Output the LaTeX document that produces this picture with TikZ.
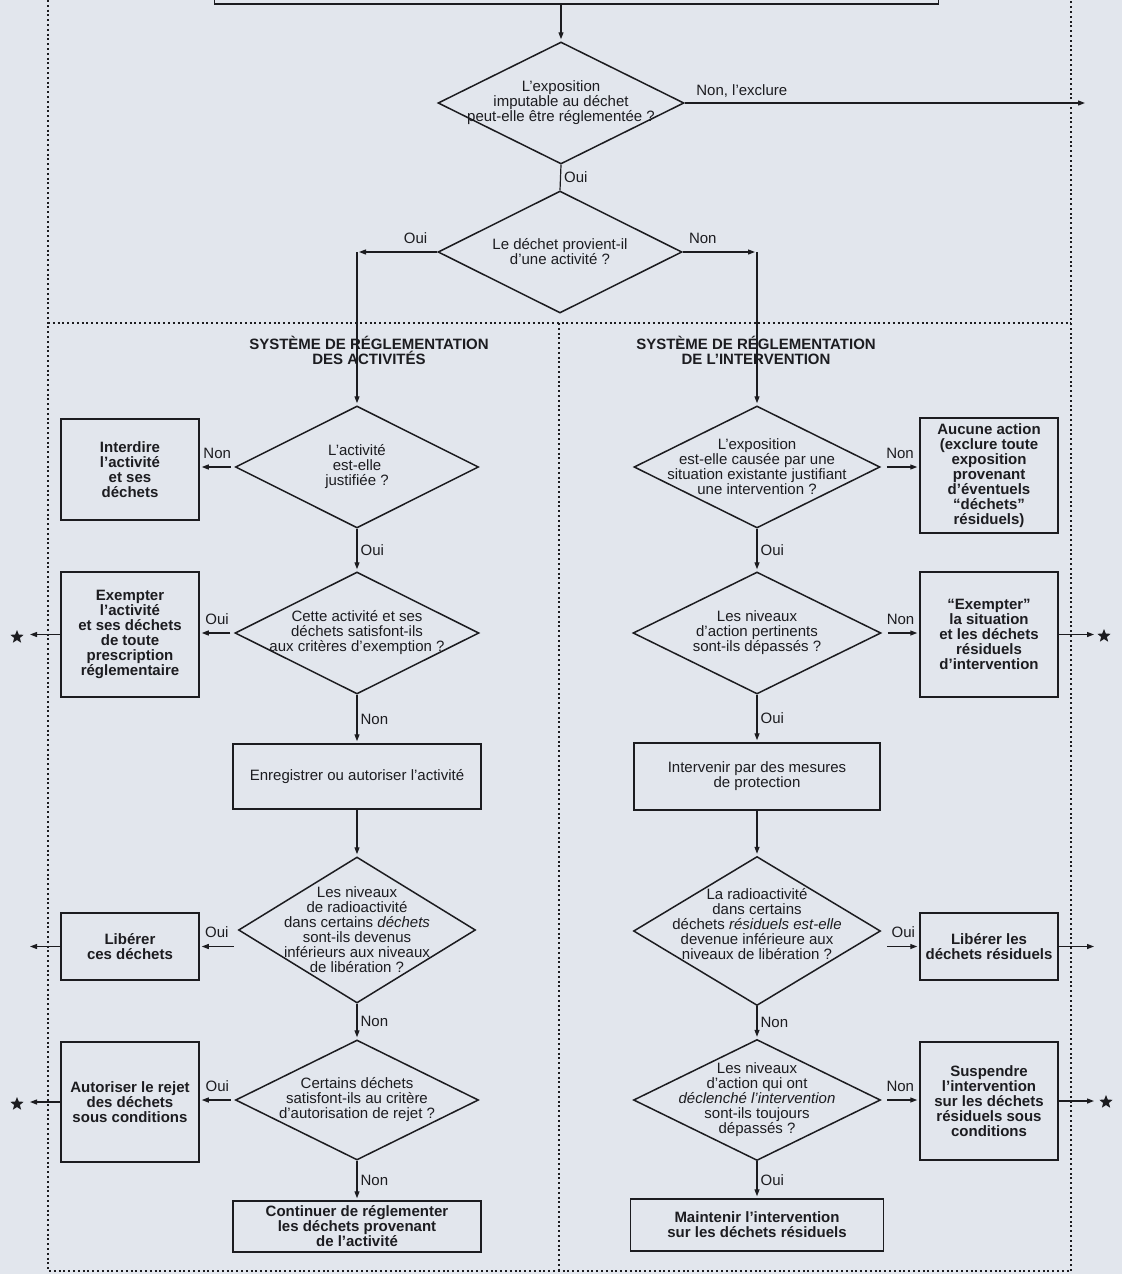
\documentclass[tikz,border=0pt]{standalone}
\usepackage{fontspec}
\setmainfont{Liberation Sans}
\usetikzlibrary{shapes.geometric,arrows.meta}

\definecolor{paper}{RGB}{226,230,237}
\definecolor{ink}{RGB}{28,28,32}

\tikzset{
  every node/.style={font=\fontsize{15}{15}\selectfont, text=ink},
  act/.style 2 args={draw=ink, line width=1.5pt, minimum width=#1pt, minimum height=#2pt,
    inner sep=0pt, align=center, font=\fontsize{15}{15}\selectfont\bfseries},
  todo/.style 2 args={act={#1}{#2}, font=\fontsize{15}{15}\selectfont},
  quest/.style 2 args={diamond, draw=ink, line width=1.5pt, minimum width=#1pt,
    minimum height=#2pt, inner sep=0pt},
  qtext/.style={align=center, inner sep=0pt},
  heading/.style={align=center, font=\fontsize{15}{15}\selectfont\bfseries},
  lab/.style={inner sep=3pt},
  labup/.style={lab, above=5pt},
  arr/.style={draw=ink, line width=1.2pt, -{Triangle[length=7pt,width=5pt]}, shorten >=2pt},
  link/.style={draw=ink, line width=1.2pt},
  dotframe/.style={draw=ink, line width=2.2pt, dash pattern=on 2pt off 2.8pt},
  starmark/.style={star, star points=5, star point ratio=2.3, fill=ink, inner sep=0pt, minimum size=14pt}
}

\begin{document}
\begin{tikzpicture}[x=1pt, y=-1pt]
\useasboundingbox (0,0) rectangle (1122,1274);
\clip (0,0) rectangle (1122,1274);
\fill[paper] (0,0) rectangle (1122,1274);

\draw[dotframe] (48,0) -- (48,1271) -- (1071,1271) -- (1071,0);
\draw[dotframe] (48,323) -- (1071,323);
\draw[dotframe] (559,323) -- (559,1271);

\node[heading] (t1) at (369,350) {SYSTÈME DE RÉGLEMENTATION\\DES ACTIVITÉS};
\node[heading] (t2) at (756,350) {SYSTÈME DE RÉGLEMENTATION\\DE L'INTERVENTION};

\node[act={724}{48}] (top) at (576.5,-20) {};
\node[quest={246}{122}, label={[qtext]center:{L'exposition\\imputable au déchet\\peut-elle être réglementée ?}}] (q0) at (561,103) {};
\node[quest={244}{122}, label={[qtext]center:{Le déchet provient-il\\d'une activité ?}}] (q1) at (560,252) {};

\node[quest={243}{122}, label={[qtext]center:{L'activité\\est-elle\\justifiée ?}}] (l1) at (357,467) {};
\node[quest={244}{122}, label={[qtext]center:{Cette activité et ses\\déchets satisfont-ils\\aux critères d'exemption ?}}] (l2) at (357,633) {};
\node[todo={248}{65}] (la) at (357,776.5) {Enregistrer ou autoriser l'activité};
\node[quest={237}{146}, label={[qtext]center:{Les niveaux\\de radioactivité\\dans certains \textit{déchets}\\sont-ils devenus\\inférieurs aux niveaux\\de libération ?}}] (l3) at (357,930) {};
\node[quest={243}{120}, label={[qtext]center:{Certains déchets\\satisfont-ils au critère\\d'autorisation de rejet ?}}] (l4) at (357,1100) {};
\node[act={248}{51}] (lb) at (357,1226.5) {Continuer de réglementer\\les déchets provenant\\de l'activité};

\node[act={138}{101}] (a1) at (130,469.5) {Interdire\\l'activité\\et ses\\déchets};
\node[act={138}{125}] (a2) at (130,634.5) {Exempter\\l'activité\\et ses déchets\\de toute\\prescription\\réglementaire};
\node[act={138}{67}] (a3) at (130,946.5) {Libérer\\ces déchets};
\node[act={138}{120}] (a4) at (130,1102) {Autoriser le rejet\\des déchets\\sous conditions};

\node[quest={246}{122}, label={[qtext]center:{L'exposition\\est-elle causée par une\\situation existante justifiant\\une intervention ?}}] (r1) at (757,467) {};
\node[quest={248}{122}, label={[qtext]center:{Les niveaux\\d'action pertinents\\sont-ils dépassés ?}}] (r2) at (757,633) {};
\node[todo={246}{67}] (ra) at (757,776.5) {Intervenir par des mesures\\de protection};
\node[quest={247}{149}, label={[qtext, yshift=7pt]center:{La radioactivité\\dans certains\\déchets \textit{résiduels est-elle}\\devenue inférieure aux\\niveaux de libération ?}}] (r3) at (757,931) {};
\node[quest={247}{121}, label={[qtext]center:{Les niveaux\\d'action qui ont\\\textit{déclenché l'intervention}\\sont-ils toujours\\dépassés ?}}] (r4) at (757,1100) {};
\node[act={253}{52}] (rb) at (757,1225) {Maintenir l'intervention\\sur les déchets résiduels};

\node[act={138}{115}] (b1) at (989,475.5) {Aucune action\\(exclure toute\\exposition\\provenant\\d'éventuels\\``déchets''\\résiduels)};
\node[act={138}{125}] (b2) at (989,634.5) {``Exempter''\\la situation\\et les déchets\\résiduels\\d'intervention};
\node[act={138}{67}] (b3) at (989,946.5) {Libérer les\\déchets résiduels};
\node[act={138}{118}] (b4) at (989,1101) {Suspendre\\l'intervention\\sur les déchets\\résiduels sous\\conditions};

\node[starmark] (s1) at (17,637) {};
\node[starmark] (s2) at (17,1104) {};
\node[starmark] (s3) at (1104,636) {};
\node[starmark] (s4) at (1106,1102) {};

\coordinate (e0) at (1087,103);
\coordinate (e1) at (28,634.5);
\coordinate (e2) at (28,946.5);
\coordinate (e3) at (28,1102);
\coordinate (e4) at (1096,634.5);
\coordinate (e5) at (1096,946.5);
\coordinate (e6) at (1096,1101);

\draw[arr] (top.south -| q0.north) -- (q0.north);
\draw[arr] (q0.east) -- (e0) node[lab, pos=0, anchor=south west, xshift=8pt, yshift=2pt] {Non, l'exclure};
\draw[link] (q0.south) -- (q1.north) node[lab, midway, right] {Oui};
\draw[arr] (q1.west) -- (q1.west -| l1.north) node[labup, pos=.27] {Oui};
\draw[arr] (q1.west -| l1.north) -- (l1.north);
\draw[arr] (q1.east) -- (q1.east -| r1.north) node[labup, pos=.27] {Non};
\draw[arr] (q1.east -| r1.north) -- (r1.north);

\draw[arr, shorten <=4pt] (l1.west) -- (l1.west -| a1.east) node[labup, midway] {Non};
\draw[arr] (l1.south) -- (l2.north) node[lab, midway, right] {Oui};
\draw[arr, shorten <=4pt] (l2.west) -- (l2.west -| a2.east) node[labup, midway] {Oui};
\draw[arr] (a2.west) -- (e1);
\draw[arr] (l2.south) -- (la.north) node[lab, midway, right] {Non};
\draw[arr] (la.south) -- (l3.north);
\draw[arr] ([xshift=-4pt]l3.west |- a3.east) -- (a3.east) node[labup, midway] {Oui};
\draw[arr] (a3.west) -- (e2);
\draw[arr] (l3.south) -- (l4.north) node[lab, midway, right] {Non};
\draw[arr, shorten <=4pt] (l4.west) -- (l4.west -| a4.east) node[labup, midway] {Oui};
\draw[arr] (a4.west) -- (e3);
\draw[arr] (l4.south) -- (lb.north) node[lab, midway, right] {Non};

\draw[arr, shorten <=6pt] (r1.east) -- (r1.east -| b1.west) node[labup, midway] {Non};
\draw[arr] (r1.south) -- (r2.north) node[lab, midway, right] {Oui};
\draw[arr, shorten <=6pt] (r2.east) -- (r2.east -| b2.west) node[labup, midway] {Non};
\draw[arr] (b2.east) -- (e4);
\draw[arr] (r2.south) -- (ra.north) node[lab, midway, right] {Oui};
\draw[arr] (ra.south) -- (r3.north);
\draw[arr] ([xshift=6pt]r3.east |- b3.west) -- (b3.west) node[labup, midway] {Oui};
\draw[arr] (b3.east) -- (e5);
\draw[arr] (r3.south) -- (r4.north) node[lab, midway, right] {Non};
\draw[arr, shorten <=6pt] (r4.east) -- (r4.east -| b4.west) node[labup, midway] {Non};
\draw[arr] (b4.east) -- (e6);
\draw[arr] (r4.south) -- (rb.north) node[lab, midway, right] {Oui};
\end{tikzpicture}
\end{document}
